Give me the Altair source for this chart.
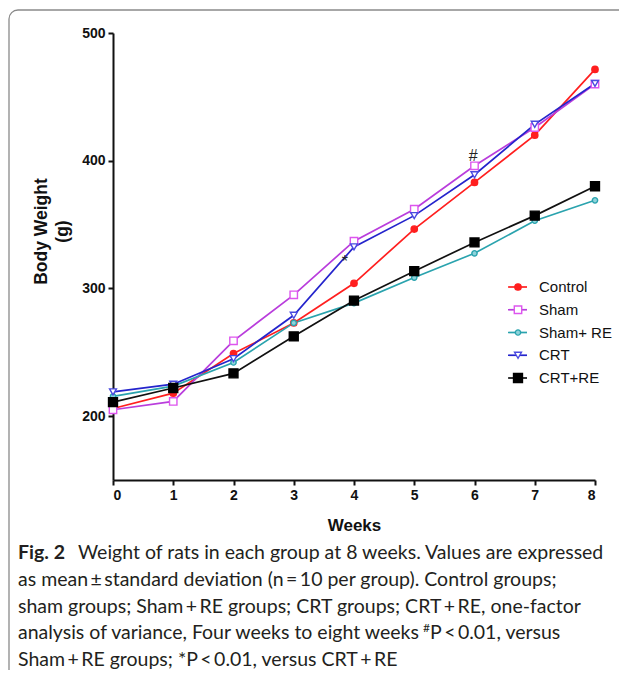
import altair as alt
import pandas as pd

weeks = [0, 1, 2, 3, 4, 5, 6, 7, 8]
groups = ["Control", "Sham", "Sham+ RE", "CRT", "CRT+RE"]
control = [206, 218, 249, 273, 304, 346.5, 383, 420, 471.5]
sham = [205, 211.5, 259, 295, 337, 362, 396, 426, 460]
sham_re = [215.5, 223.5, 242, 273, 288.5, 308.5, 327.5, 353, 369]
crt = [219, 225, 245, 279, 332.5, 357, 389, 428.5, 460.5]
crt_re = [211, 222, 233.5, 262.5, 290.5, 313.5, 336, 357, 380]
series = [control, sham, sham_re, crt, crt_re]

line_colors = ["#ff1f1f", "#b93ddc", "#2aa3ae", "#2424cc", "#111111"]
marker_stroke = ["#ff1f1f", "#dd55ee", "#2aa3ae", "#4a4ae0", "#000000"]
marker_fill = ["#ff1f1f", "#ffffff", "#8fd3da", "#ffffff", "#000000"]
marker_shape = ["circle", "square", "circle", "triangle-down", "square"]
marker_size = [40, 55, 28, 48, 80]

annot_week = [3.85, 5.98]
annot_value = [321, 404]
annot_text = ["*", "#"]

caption_lines = [
    "Weight of rats in each group at 8 weeks. Values are expressed",
    "as mean\u2009\u00b1\u2009standard deviation (n\u2009=\u200910 per group). Control groups;",
    "sham groups; Sham\u2009+\u2009RE groups; CRT groups; CRT\u2009+\u2009RE, one-factor",
    "analysis of variance, Four weeks to eight weeks",
    "Sham\u2009+\u2009RE groups; *P\u2009<\u20090.01, versus CRT\u2009+\u2009RE",
]

rows = []
for g, vals in zip(groups, series):
    for w, v in zip(weeks, vals):
        rows.append({"group": g, "week": w, "weight": v})
df = pd.DataFrame(rows)

W, H = 482, 447
FONT = "Liberation Sans"
CAP_FONT = "Lato"
CAP_SIZE = 19.5

xaxis = alt.Axis(values=weeks, format="d", title="Weeks", grid=False,
                 domain=True, domainColor="#111111", domainWidth=2, domainOpacity=1,
                 ticks=True, tickColor="#111111", tickWidth=2, tickSize=5,
                 labelFont=FONT, labelFontSize=14, labelFontWeight="bold",
                 labelColor="#111111", labelPadding=3, titleFont=FONT, titleFontSize=17,
                 titleFontWeight="bold", titleColor="#111111", titleY=37, titleBaseline="top")
xscale = alt.Scale(domain=[0, 8], nice=False)
yaxis = alt.Axis(values=[200, 300, 400, 500], title=["Body Weight", "(g)"], grid=False,
                 domain=True, domainColor="#111111", domainWidth=2, domainOpacity=1,
                 ticks=True, tickColor="#111111", tickWidth=2, tickSize=5,
                 labelFont=FONT, labelFontSize=14, labelFontWeight="bold",
                 labelColor="#111111", labelPadding=3, titleFont=FONT, titleFontSize=17.5,
                 titleFontWeight="bold", titleColor="#111111", titleLineHeight=21,
                 titleAngle=270, titleAlign="center", titleBaseline="bottom",
                 titleX=-63, titleY=198)
yscale = alt.Scale(domain=[150, 500], nice=False, zero=False)


def xenc(field="week"):
    return alt.X(f"{field}:Q", scale=xscale, axis=xaxis, title="Weeks")


def yenc(field="weight"):
    return alt.Y(f"{field}:Q", scale=yscale, axis=yaxis, title=["Body Weight", "(g)"])


lines = alt.Chart(df).mark_line(strokeWidth=1.7).encode(
    x=xenc(), y=yenc(),
    color=alt.Color("group:N", scale=alt.Scale(domain=groups, range=line_colors), legend=None),
)

point_layers = []
for i, g in enumerate(groups):
    point_layers.append(
        alt.Chart(df).transform_filter(alt.datum.group == g).mark_point(
            shape=marker_shape[i], size=marker_size[i], stroke=marker_stroke[i],
            fill=marker_fill[i], fillOpacity=1, strokeWidth=1.4, opacity=1
        ).encode(x=xenc(), y=yenc())
    )

adf = pd.DataFrame({"week": annot_week, "weight": annot_value, "t": annot_text})
annots = alt.Chart(adf).mark_text(font=FONT, fontSize=16, color="#222222").encode(
    x=xenc(), y=yenc(), text="t:N")

main = alt.layer(lines, *point_layers, annots)

# legend
ldf = pd.DataFrame({"group": groups, "row": list(range(len(groups)))})
lyscale = alt.Scale(domain=[0, 4], range=[254, 345])
leg_layers = []
for i, g in enumerate(groups):
    base = alt.Chart(ldf).transform_filter(alt.datum.group == g)
    leg_layers.append(base.mark_rule(color=line_colors[i], strokeWidth=1.7).encode(
        x=alt.value(395), x2=alt.value(414), y=alt.Y("row:Q", scale=lyscale, axis=None)))
    leg_layers.append(base.mark_point(
        shape=marker_shape[i], size=marker_size[i], stroke=marker_stroke[i],
        fill=marker_fill[i], fillOpacity=1, strokeWidth=1.4, opacity=1).encode(
        x=alt.value(405), y=alt.Y("row:Q", scale=lyscale, axis=None)))
leg_text = alt.Chart(ldf).mark_text(font=FONT, fontSize=15, color="#111111", align="left",
                                    baseline="middle").encode(
    x=alt.value(426), y=alt.Y("row:Q", scale=lyscale, axis=None), text="group:N")
legend = alt.layer(*leg_layers, leg_text)

# frame and caption
fdf = pd.DataFrame({"k": [0]})
frame = alt.Chart(fdf).mark_rect(fill=None, stroke="#8a8a8a", strokeWidth=1.3, cornerRadius=9).encode(
    x=alt.value(-104), x2=alt.value(700), y=alt.value(-23), y2=alt.value(720))

cap_y = [520, 547, 574, 600, 627]
cap_layers = [
    alt.Chart(fdf).mark_text(text="Fig. 2", font=CAP_FONT, fontSize=CAP_SIZE, fontWeight="bold",
                             color="#231f20", align="left", baseline="middle").encode(
        x=alt.value(-95), y=alt.value(cap_y[0]))
]
cap_x = [-35, -95, -95, -95, -95]
for i, line in enumerate(caption_lines):
    cap_layers.append(alt.Chart(fdf).mark_text(text=line, font=CAP_FONT, fontSize=CAP_SIZE,
                                               color="#231f20", align="left",
                                               baseline="middle").encode(
        x=alt.value(cap_x[i]), y=alt.value(cap_y[i])))
cap_layers.append(alt.Chart(fdf).mark_text(text="#", font=CAP_FONT, fontSize=12,
                                           color="#231f20", align="left", baseline="middle").encode(
    x=alt.value(310), y=alt.value(cap_y[3] - 5)))
cap_layers.append(alt.Chart(fdf).mark_text(text="P\u2009<\u20090.01, versus", font=CAP_FONT,
                                           fontSize=CAP_SIZE, color="#231f20", align="left",
                                           baseline="middle").encode(
    x=alt.value(317), y=alt.value(cap_y[3])))

chart = alt.layer(main, legend, frame, *cap_layers).resolve_scale(y="independent").properties(
    width=W, height=H,
    autosize=alt.AutoSizeParams(type="none"),
    padding={"left": 105, "top": 25, "right": 24, "bottom": 190},
).configure_view(stroke=None)

chart.save("out.html", embed_options={"renderer": "svg", "actions": False})
